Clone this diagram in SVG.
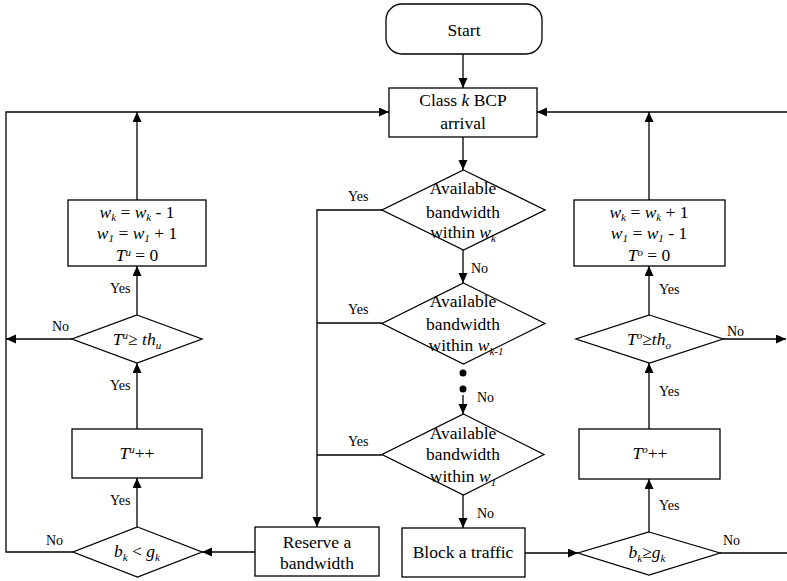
<svg xmlns="http://www.w3.org/2000/svg" width="787" height="581" viewBox="0 0 787 581">
<style>
.s{fill:#fff;stroke:#000;stroke-width:1.3}
.c{fill:none;stroke:#000;stroke-width:1.3}
text{font-family:"Liberation Serif","Times New Roman",serif;fill:#000}
.t{font-size:17.5px;text-anchor:middle}
.l{font-size:14px}
.i{font-style:italic}
.sb{font-size:11px;font-style:italic}
</style>
<defs>
<marker id="a" markerUnits="userSpaceOnUse" markerWidth="11" markerHeight="10" refX="10" refY="4.5" orient="auto"><path d="M0,0 L10,4.5 L0,9 z" fill="#000"/></marker>
</defs>
<g id="connectors">
<path class="c" d="M463,54 V88" marker-end="url(#a)"/>
<path class="c" d="M463,137 V170" marker-end="url(#a)"/>
<path class="c" d="M463,250 V283" marker-end="url(#a)"/>
<path class="c" d="M463,395 V414" marker-end="url(#a)"/>
<path class="c" d="M463,495 V528" marker-end="url(#a)"/>
<path class="c" d="M382,210 H317 V527" marker-end="url(#a)"/>
<path class="c" d="M382,323 H317"/>
<path class="c" d="M382,455 H317"/>
<path class="c" d="M255,552 H202" marker-end="url(#a)"/>
<path class="c" d="M137,527 V478" marker-end="url(#a)"/>
<path class="c" d="M137,429 V363" marker-end="url(#a)"/>
<path class="c" d="M137,315 V266" marker-end="url(#a)"/>
<path class="c" d="M137,200 V112" marker-end="url(#a)"/>
<path class="c" d="M72,339 H6" marker-end="url(#a)"/>
<path class="c" d="M73,552 H6 V112 H389" marker-end="url(#a)"/>
<path class="c" d="M525,553 H578" marker-end="url(#a)"/>
<path class="c" d="M649,532 V479" marker-end="url(#a)"/>
<path class="c" d="M649,429 V363" marker-end="url(#a)"/>
<path class="c" d="M649,315 V266" marker-end="url(#a)"/>
<path class="c" d="M649,200 V112" marker-end="url(#a)"/>
<path class="c" d="M787,112 H537" marker-end="url(#a)"/>
<path class="c" d="M723,339 H786" marker-end="url(#a)"/>
<path class="c" d="M720,553 H787"/>
<circle cx="463" cy="373" r="3.5" fill="#000"/>
<circle cx="463" cy="389" r="3.5" fill="#000"/>
<text class="l" x="348" y="201">Yes</text>
<text class="l" x="348" y="314">Yes</text>
<text class="l" x="348" y="446">Yes</text>
<text class="l" x="471" y="273">No</text>
<text class="l" x="477" y="402">No</text>
<text class="l" x="477" y="518">No</text>
<text class="l" x="110" y="293">Yes</text>
<text class="l" x="110" y="390">Yes</text>
<text class="l" x="110" y="505">Yes</text>
<text class="l" x="52" y="331">No</text>
<text class="l" x="46" y="545">No</text>
<text class="l" x="659" y="294">Yes</text>
<text class="l" x="659" y="396">Yes</text>
<text class="l" x="659" y="510">Yes</text>
<text class="l" x="727" y="336">No</text>
<text class="l" x="723" y="545">No</text>
</g>
<g id="start">
<rect class="s" x="386" y="4" width="156" height="50" rx="16"/>
<text class="t" x="464" y="36">Start</text>
</g>
<g id="arrival">
<rect class="s" x="389" y="88" width="148" height="49"/>
<text class="t" x="463" y="106">Class <tspan class="i">k</tspan> BCP</text>
<text class="t" x="463" y="129">arrival</text>
</g>
<g id="d1">
<path class="s" d="M463.5,170 L545,210 L463.5,250 L382,210 Z"/>
<text class="t" x="463" y="194">Available</text>
<text class="t" x="463" y="218">bandwidth</text>
<text class="t" x="463" y="238">within <tspan class="i">w</tspan><tspan class="sb" dy="4">k</tspan></text>
</g>
<g id="d2">
<path class="s" d="M463.5,283 L545,323.5 L463.5,364 L382,323.5 Z"/>
<text class="t" x="463" y="307">Available</text>
<text class="t" x="463" y="330">bandwidth</text>
<text class="t" x="466" y="351">within <tspan class="i">w</tspan><tspan class="sb" dy="4">k-1</tspan></text>
</g>
<g id="d3">
<path class="s" d="M463.5,414 L544,454.5 L463.5,495 L382,454.5 Z"/>
<text class="t" x="463" y="439">Available</text>
<text class="t" x="463" y="460">bandwidth</text>
<text class="t" x="463" y="482">within <tspan class="i">w</tspan><tspan class="sb" dy="4">1</tspan></text>
</g>
<g id="reserve">
<rect class="s" x="255" y="527" width="124" height="49"/>
<text class="t" x="317" y="548">Reserve a</text>
<text class="t" x="317" y="569">bandwidth</text>
</g>
<g id="block">
<rect class="s" x="402" y="528" width="123" height="49"/>
<text class="t" x="463" y="558">Block a traffic</text>
</g>
<g id="bk-lt">
<path class="s" d="M137.5,527 L202,552 L137.5,577 L73,552 Z"/>
<text class="t" x="137" y="557"><tspan class="i">b</tspan><tspan class="sb" dy="4">k</tspan><tspan dy="-4"> &lt; </tspan><tspan class="i">g</tspan><tspan class="sb" dy="4">k</tspan></text>
</g>
<g id="tu-inc">
<rect class="s" x="72" y="429" width="130" height="49"/>
<text class="t" x="137" y="459"><tspan class="i">T</tspan><tspan class="sb" dy="-6">u</tspan><tspan dy="6">++</tspan></text>
</g>
<g id="tu-cmp">
<path class="s" d="M137,315 L202,339 L137,363 L72,339 Z"/>
<text class="t" x="137" y="345"><tspan class="i">T</tspan><tspan class="sb" dy="-6">u</tspan><tspan dy="6">≥ </tspan><tspan class="i">th</tspan><tspan class="sb" dy="4">u</tspan></text>
</g>
<g id="dec-box">
<rect class="s" x="68" y="200" width="138" height="66"/>
<text class="t" x="137" y="218"><tspan class="i">w</tspan><tspan class="sb" dy="3">k</tspan><tspan dy="-3"> = </tspan><tspan class="i">w</tspan><tspan class="sb" dy="3">k</tspan><tspan dy="-3"> - 1</tspan></text>
<text class="t" x="137" y="239"><tspan class="i">w</tspan><tspan class="sb" dy="3">1</tspan><tspan dy="-3"> = </tspan><tspan class="i">w</tspan><tspan class="sb" dy="3">1</tspan><tspan dy="-3"> + 1</tspan></text>
<text class="t" x="137" y="261"><tspan class="i">T</tspan><tspan class="sb" dy="-5">u</tspan><tspan dy="5"> = 0</tspan></text>
</g>
<g id="bk-ge">
<path class="s" d="M649,532 L720,553 L649,575 L578,553 Z"/>
<text class="t" x="647" y="558"><tspan class="i">b</tspan><tspan class="sb" dy="4">k</tspan><tspan dy="-4">≥</tspan><tspan class="i">g</tspan><tspan class="sb" dy="4">k</tspan></text>
</g>
<g id="to-inc">
<rect class="s" x="579" y="429" width="141" height="50"/>
<text class="t" x="650" y="459"><tspan class="i">T</tspan><tspan class="sb" dy="-6">o</tspan><tspan dy="6">++</tspan></text>
</g>
<g id="to-cmp">
<path class="s" d="M649.5,315 L723,339 L649.5,363 L576,339 Z"/>
<text class="t" x="649" y="345"><tspan class="i">T</tspan><tspan class="sb" dy="-6">o</tspan><tspan dy="6">≥</tspan><tspan class="i">th</tspan><tspan class="sb" dy="4">o</tspan></text>
</g>
<g id="inc-box">
<rect class="s" x="574" y="200" width="151" height="66"/>
<text class="t" x="649" y="218"><tspan class="i">w</tspan><tspan class="sb" dy="3">k</tspan><tspan dy="-3"> = </tspan><tspan class="i">w</tspan><tspan class="sb" dy="3">k</tspan><tspan dy="-3"> + 1</tspan></text>
<text class="t" x="649" y="239"><tspan class="i">w</tspan><tspan class="sb" dy="3">1</tspan><tspan dy="-3"> = </tspan><tspan class="i">w</tspan><tspan class="sb" dy="3">1</tspan><tspan dy="-3"> - 1</tspan></text>
<text class="t" x="649" y="261"><tspan class="i">T</tspan><tspan class="sb" dy="-5">o</tspan><tspan dy="5"> = 0</tspan></text>
</g>
</svg>
